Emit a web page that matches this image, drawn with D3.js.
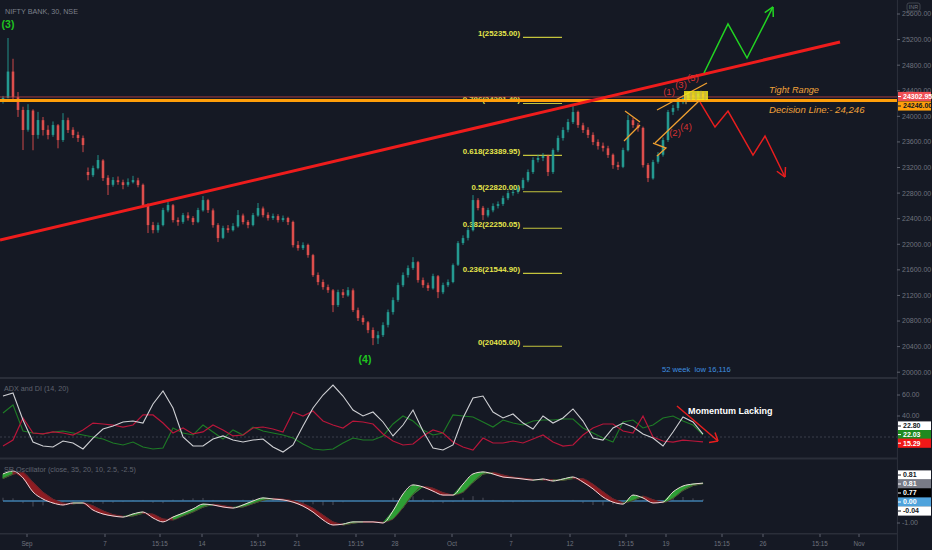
<!DOCTYPE html>
<html><head><meta charset="utf-8">
<script src="https://cdn.jsdelivr.net/npm/d3@7"></script>
<style>
html,body{margin:0;padding:0;background:#151924;overflow:hidden;}
svg{display:block;}
</style></head><body>
<svg id="c" width="932" height="550"></svg>
<script>
// ---------- DATA ----------
const opens=[24230,24290,24700,24300,24100,23790,24090,23710,23940,23790,23710,23860,23630,23940,23790,23710,23660,23130,23080,23190,23310,23040,22930,23000,22970,22930,22970,23000,22930,22610,22300,22220,22300,22530,22610,22380,22350,22450,22410,22350,22530,22690,22530,22300,22100,22250,22220,22280,22450,22350,22300,22450,22560,22460,22410,22440,22380,22410,22350,21990,21940,21990,21830,21520,21410,21330,21280,21050,21250,21200,21280,20970,20850,20780,20660,20530,20580,20740,20940,21130,21360,21520,21630,21720,21440,21360,21310,21500,21250,21360,21410,21680,22020,22100,22220,22690,22570,22450,22530,22600,22630,22720,22800,22820,22880,23000,23130,23320,23350,23380,23130,23470,23660,23790,23910,24070,23860,23790,23710,23600,23540,23500,23400,23240,23210,23470,23940,23860,23820,23240,23030,23290,23400,23630,24070,24130,24220,24290,24330,24300,24350];
const highs=[24320,25225,24900,24380,24150,24190,24110,24070,23990,23860,23920,23880,24050,23980,23830,23760,23700,23200,23230,23395,23330,23080,23050,23060,23010,23030,23070,23040,22950,22640,22350,22340,22570,22660,22630,22420,22490,22500,22440,22570,22754,22710,22560,22330,22290,22300,22330,22535,22480,22380,22490,22645,22590,22500,22480,22470,22450,22430,22370,22050,22030,22010,21850,21560,21450,21370,21300,21290,21300,21330,21310,21010,20890,20800,20700,20640,20780,20980,21170,21400,21560,21670,21799,21740,21480,21400,21540,21520,21400,21450,21700,22050,22140,22260,22769,22720,22600,22570,22640,22670,22760,22840,22870,22920,23040,23170,23360,23400,23426,23400,23500,23700,23830,23960,24161,24090,23900,23830,23750,23640,23590,23540,23420,23290,23510,24020,23980,23900,23840,23270,23320,23440,23670,24100,24180,24270,24330,24380,24370,24400,24390];
const lows=[24200,24280,24250,23990,23473,23760,23470,23650,23700,23640,23680,23500,23600,23740,23660,23600,23440,23000,23050,23170,22990,22770,22900,22930,22860,22900,22950,22890,22580,22175,22170,22180,22280,22500,22340,22290,22320,22370,22300,22330,22510,22490,22260,22034,22080,22180,22200,22260,22310,22250,22280,22430,22420,22370,22380,22340,22350,22300,21950,21900,21910,21790,21490,21360,21290,21240,20939,21020,21160,21180,20940,20800,20740,20610,20423,20440,20550,20700,20900,21100,21330,21480,21600,21400,21320,21270,21290,21158,21220,21330,21390,21660,21990,22060,22200,22530,22378,22420,22500,22560,22600,22690,22760,22790,22850,22970,23100,23280,23300,23066,23100,23440,23620,23750,23880,23820,23740,23660,23550,23480,23450,23350,23180,23160,23190,23450,23820,23760,23200,22972,23010,23260,23370,23600,24020,24090,24190,24250,24240,24270,24260];
const closes=[24290,24700,24300,24100,23786,24099,23708,23942,23786,23708,23864,23629,23942,23786,23708,23661,23551,23082,23191,23317,23035,22926,23004,22972,22926,22972,23004,22926,22613,22300,22222,22300,22535,22613,22378,22347,22456,22409,22347,22535,22691,22535,22300,22097,22253,22222,22284,22456,22347,22300,22456,22566,22456,22409,22441,22378,22409,22347,21987,21940,21987,21831,21518,21409,21330,21283,21049,21252,21205,21283,20971,20845,20783,20658,20533,20580,20736,20939,21127,21362,21518,21627,21721,21440,21362,21315,21502,21252,21362,21409,21674,22018,22097,22222,22691,22566,22456,22535,22597,22628,22722,22800,22816,22879,23004,23129,23317,23348,23379,23129,23473,23661,23786,23911,24067,23864,23786,23708,23598,23535,23504,23395,23238,23207,23473,23942,23864,23817,23238,23035,23285,23395,23629,24067,24130,24224,24286,24333,24302,24349,24302.95];

const priceTicks=[25600,25200,24800,24400,24000,23600,23200,22800,22400,22000,21600,21200,20800,20400,20000];
const tickBars=[4.8,20.4,31.4,39.8,51,58.8,70.6,78.4,89.8,101.6,113.4,124.6,132.6,143.8,152,163.4,171.2];
const tickLabels=['Sep','7','15:15','14','15:15','21','15:15','28','Oct','7','12','15:15','19','15:15','26','15:15','Nov'];

const fibRatios=['1','0.786','0.618','0.5','0.382','0.236','0'];
const fibPrices=[25235,24201.40,23389.95,22820,22250.05,21544.90,20405];

const decisionLevel=24246;
const lastPrice=24302.95;

const trendPts=[[-0.6,22065],[167.4,25162]];
const greenPath=[[140.2,24677],[145,25444],[148.8,24912],[154,25710]];
const redPath=[[139.4,24224],[142.4,23833],[145,24083],[150,23395],[152.4,23692],[156.4,23051]];
const wedgeLines=[
  [[124.4,24083],[127.4,23911]],
  [[124.2,23614],[127.4,23864]],
  [[130,23582],[132.6,23504],[130.8,23379]],
  [[130.8,24099],[140.8,24521]],
  [[130.4,23582],[139.4,24255]]
];
const tightBox=[[136.2,24396],[141,24255]];
const waveLabels=[['(1)',133.2,24380],['(3)',135.6,24490],['(5)',138,24599],['(2)',134.4,23739],['(4)',136.6,23833]];

// ADX & DI sampled every 2 bars
const adx=[59.0,61.9,36.2,15.2,11.4,10.5,16.2,14.3,8.6,19.0,27.6,30.5,34.3,35.2,33.3,51.4,63.8,47.6,20.0,11.4,11.4,18.1,21.0,17.1,15.2,17.1,18.1,10.5,5.7,12.4,30.5,47.6,60.0,69.5,59.0,45.7,40.0,43.8,34.3,21.0,31.4,45.7,25.7,9.5,7.6,12.4,38.1,57.1,59.0,43.8,38.1,41.9,33.3,27.6,40.0,33.3,38.1,46.7,35.2,19.0,17.1,28.6,33.3,29.5,22.9,19.0,11.4,24.8,39.0,34.3,22.8];
const plusDI=[42.9,50.5,25.7,23.8,22.9,24.8,25.7,23.8,21.9,20.0,18.1,14.3,12.4,15.2,10.5,8.6,9.5,28.6,23.8,21.9,31.4,24.8,18.1,26.7,21.9,29.5,25.7,23.8,21.9,19.0,13.3,8.6,7.6,8.6,14.3,19.0,17.1,17.1,21.0,32.4,40.0,35.2,26.7,21.9,23.8,41.0,40.0,39.0,34.3,29.5,36.2,33.3,31.4,35.2,36.2,36.2,37.1,37.1,28.6,23.8,19.0,15.2,34.3,36.2,28.6,31.4,38.1,40.0,35.2,31.4,22.0];
const minusDI=[11.4,17.1,38.1,23.8,22.9,24.8,23.8,21.9,26.7,33.3,32.4,31.4,29.5,31.4,41.0,41.0,33.3,23.8,28.6,22.9,24.8,31.4,26.7,21.0,21.9,28.6,29.5,27.6,24.8,43.8,40.0,44.8,35.2,31.4,28.6,35.2,34.3,32.4,22.9,16.2,12.4,13.3,21.0,26.7,23.8,15.2,10.5,7.6,19.0,14.3,14.3,16.2,14.3,18.1,21.9,15.2,11.4,12.4,21.9,28.6,32.4,32.4,25.7,23.8,40.0,20.0,16.2,15.2,17.1,16.2,15.3];
const adxTicks=[60,40];

// Oscillator sampled every 2 bars
const osc=[1.23,1.36,1.05,0.41,0.09,-0.09,-0.18,-0.09,-0.09,-0.41,-0.59,-0.68,-0.73,-0.59,-0.50,-0.77,-0.95,-0.73,-0.55,-0.36,-0.14,-0.18,-0.27,-0.32,-0.18,0.00,0.14,0.09,0.05,-0.05,-0.23,-0.50,-0.86,-1.09,-1.05,-0.95,-0.95,-0.95,-1.00,-0.45,0.32,0.73,0.64,0.45,0.27,0.27,0.77,1.23,1.32,1.23,1.09,1.05,1.00,0.95,1.00,0.91,1.00,1.09,0.86,0.55,0.18,-0.05,-0.14,0.27,0.14,-0.09,-0.05,0.41,0.68,0.77,0.81];
const oscSignal=[1.02,1.22,1.30,0.85,0.40,0.08,-0.10,-0.13,-0.08,-0.22,-0.45,-0.62,-0.70,-0.68,-0.56,-0.60,-0.82,-0.86,-0.68,-0.50,-0.28,-0.15,-0.21,-0.29,-0.27,-0.12,0.03,0.12,0.08,0.01,-0.12,-0.33,-0.64,-0.95,-1.09,-1.01,-0.95,-0.95,-0.97,-0.82,-0.30,0.30,0.66,0.58,0.38,0.26,0.40,0.85,1.22,1.30,1.18,1.08,1.03,0.98,0.96,0.97,0.94,1.02,1.01,0.76,0.42,0.10,-0.09,0.02,0.22,0.06,-0.08,0.12,0.48,0.70,0.79];
const oscHist=[0.15,0.12,-0.10,-0.25,-0.20,-0.12,-0.06,0.03,0.02,-0.10,-0.12,-0.08,-0.05,0.04,0.05,-0.08,-0.10,0.06,0.10,0.12,0.14,0.05,-0.03,-0.04,0.06,0.10,0.12,0.06,0.02,-0.04,-0.10,-0.15,-0.20,-0.18,-0.06,0.02,0.03,0.02,-0.02,0.15,0.25,0.22,0.10,-0.06,-0.10,-0.05,0.15,0.22,0.15,0.05,-0.05,-0.06,-0.04,-0.04,0.02,-0.03,0.03,0.05,-0.10,-0.18,-0.20,-0.16,-0.08,0.12,0.04,-0.08,-0.04,0.14,0.18,0.12,0.08];
const oscBoxes=[['0.81','#ffffff','#131722'],['0.81','#787b86','#ffffff'],['0.77','#000000','#ffffff'],['0.00','#4fa3dc','#ffffff'],['-0.04','#ffffff','#131722']];
const adxBoxes=[['22.80','#ffffff','#131722'],['22.03','#1f8a1f','#ffffff'],['15.29','#f01818','#ffffff']];

// ---------- SETUP ----------
const W=932,H=550,AX=897;
const svg=d3.select('#c');
const BG='#151924';
svg.append('rect').attr('width',W).attr('height',H).attr('fill',BG);

const x=d3.scaleLinear().domain([0,180]).range([3,903]);
const y=d3.scaleLinear().domain([20000,25600]).range([372.2,14]);
const ya=d3.scaleLinear().domain([0,60]).range([458,395]);
const yo=d3.scaleLinear().domain([-1,1]).range([523,479]);
const indBar=k=>2*k;

const defs=svg.append('defs');
defs.append('clipPath').attr('id','cm').append('rect').attr('x',0).attr('y',0).attr('width',AX).attr('height',377);
defs.append('clipPath').attr('id','ca').append('rect').attr('x',0).attr('y',380).attr('width',AX).attr('height',77);
defs.append('clipPath').attr('id','co').append('rect').attr('x',0).attr('y',460).attr('width',AX).attr('height',73);

const FN="'Liberation Sans', Arial, sans-serif";
const FNN="'Liberation Sans Narrow','Liberation Sans', Arial, sans-serif";

// separators
svg.append('rect').attr('x',0).attr('y',377).attr('width',W).attr('height',2).attr('fill','#2a2e39');
svg.append('rect').attr('x',0).attr('y',457.5).attr('width',W).attr('height',2).attr('fill','#2a2e39');
svg.append('rect').attr('x',0).attr('y',533).attr('width',W).attr('height',1.5).attr('fill','#2a2e39');
svg.append('line').attr('x1',AX+0.5).attr('x2',AX+0.5).attr('y1',0).attr('y2',H).attr('stroke','#2a2e39').attr('stroke-width',1.2);

// ---------- MAIN PANE ----------
const main=svg.append('g').attr('clip-path','url(#cm)');
const line=d3.line().x(d=>x(d[0])).y(d=>y(d[1]));

// fib levels
const fibG=main.append('g');
fibPrices.forEach((p,i)=>{
  fibG.append('line').attr('x1',x(104)).attr('x2',x(111.8)).attr('y1',y(p)).attr('y2',y(p))
    .attr('stroke','#c4c43c').attr('stroke-width',1.1);
  fibG.append('text').attr('x',x(103.4)).attr('y',y(p)-1.5).attr('text-anchor','end')
    .attr('font-family',FNN).attr('font-size',7.8).attr('font-weight','bold').attr('fill','#e6e64c')
    .text(`${fibRatios[i]}(${p.toFixed(2)})`);
});

// candles
const cg=main.append('g');
closes.forEach((c,i)=>{
  const o=opens[i],up=c>=o,col=up?'#26a69a':'#ef5350';
  cg.append('line').attr('x1',x(i)).attr('x2',x(i)).attr('y1',y(highs[i])).attr('y2',y(lows[i]))
    .attr('stroke',col).attr('stroke-width',1).attr('opacity',0.85);
  const yt=y(Math.max(o,c)),yb=y(Math.min(o,c));
  cg.append('rect').attr('x',x(i)-1.3).attr('width',2.6).attr('y',yt).attr('height',Math.max(1,yb-yt))
    .attr('fill',col).attr('opacity',0.85);
});

// last price line & decision line
main.append('line').attr('x1',0).attr('x2',AX).attr('y1',y(lastPrice)).attr('y2',y(lastPrice))
  .attr('stroke','#c2454a').attr('stroke-width',1).attr('opacity',0.8);
main.append('line').attr('x1',0).attr('x2',AX).attr('y1',y(decisionLevel)).attr('y2',y(decisionLevel))
  .attr('stroke','#ff9f0a').attr('stroke-width',3);

// trend line
main.append('path').attr('d',line(trendPts)).attr('stroke','#ee1c1c').attr('stroke-width',3).attr('fill','none');

// wedge lines
wedgeLines.forEach(w=>main.append('path').attr('d',line(w)).attr('stroke','#f0a030').attr('stroke-width',1.3).attr('fill','none'));

// tight box
main.append('rect').attr('x',x(tightBox[0][0])).attr('y',y(tightBox[0][1]))
  .attr('width',x(tightBox[1][0])-x(tightBox[0][0])).attr('height',y(tightBox[1][1])-y(tightBox[0][1]))
  .attr('fill','#f5e61a').attr('opacity',0.85);
[136.6,137.6,138.6,139.6,140.4].forEach((b,j)=>{
  main.append('line').attr('x1',x(b)).attr('x2',x(b)).attr('y1',y(highs[136+j])).attr('y2',y(lows[136+j]))
   .attr('stroke','#c7a85a').attr('stroke-width',1);
});

// projections
function arrow(g,pts,col){
  g.append('path').attr('d',line(pts)).attr('stroke',col).attr('stroke-width',1.5).attr('fill','none');
  const a=pts[pts.length-2],b=pts[pts.length-1];
  const ax=x(a[0]),ay=y(a[1]),bx=x(b[0]),by=y(b[1]);
  const ang=Math.atan2(by-ay,bx-ax),L=10;
  [0.5,-0.5].forEach(s=>{
    g.append('line').attr('x1',bx).attr('y1',by)
     .attr('x2',bx-L*Math.cos(ang+s)).attr('y2',by-L*Math.sin(ang+s))
     .attr('stroke',col).attr('stroke-width',1.5);
  });
}
arrow(main,greenPath,'#22d422');
arrow(main,redPath,'#e81e1e');

// labels
main.append('text').attr('x',x(1)).attr('y',28).attr('text-anchor','middle').attr('font-family',FN)
  .attr('font-size',10.5).attr('font-weight','bold').attr('fill','#1fc41f').text('(3)');
main.append('text').attr('x',x(72.4)).attr('y',363).attr('text-anchor','middle').attr('font-family',FN)
  .attr('font-size',10.5).attr('font-weight','bold').attr('fill','#1fc41f').text('(4)');
waveLabels.forEach(w=>main.append('text').attr('x',x(w[1])).attr('y',y(w[2])).attr('dy','0.35em')
  .attr('text-anchor','middle').attr('font-family',FN).attr('font-size',9.5).attr('fill','#d63232').text(w[0]));
main.append('text').attr('x',769).attr('y',y(24364)).attr('font-family',FN).attr('font-style','italic')
  .attr('font-size',9.2).attr('fill','#f0a13a').text('Tight Range');
main.append('text').attr('x',769).attr('y',y(24052)).attr('font-family',FN).attr('font-style','italic')
  .attr('font-size',9.6).attr('fill','#f0a13a').text('Decision Line:- 24,246');
main.append('text').attr('x',662).attr('y',372).attr('font-family',FN).attr('font-size',7.6)
  .attr('fill','#3e8fe0').attr('xml:space','preserve').text('52 week  low 16,116');
svg.append('text').attr('x',5).attr('y',14).attr('font-family',FN).attr('font-size',7.2)
  .attr('fill','#7c808b').text('NIFTY BANK, 30, NSE');

// ---------- ADX PANE ----------
const ag=svg.append('g').attr('clip-path','url(#ca)');
ag.append('line').attr('x1',0).attr('x2',AX).attr('y1',ya(20)).attr('y2',ya(20))
  .attr('stroke','#3a3e4a').attr('stroke-dasharray','2,2').attr('stroke-width',1);
const la=d3.line().x((d,k)=>x(indBar(k))).y(d=>ya(d));
ag.append('path').attr('d',la(plusDI)).attr('stroke','#1e7b26').attr('stroke-width',1.1).attr('fill','none');
ag.append('path').attr('d',la(minusDI)).attr('stroke','#b8163a').attr('stroke-width',1.2).attr('fill','none');
ag.append('path').attr('d',la(adx)).attr('stroke','#cfd0d4').attr('stroke-width',1.1).attr('fill','none');
svg.append('text').attr('x',4).attr('y',391).attr('font-family',FN).attr('font-size',7.2)
  .attr('fill','#5f636e').text('ADX and DI (14, 20)');
// annotation
svg.append('line').attr('x1',677).attr('y1',406).attr('x2',718).attr('y2',441).attr('stroke','#e81e1e').attr('stroke-width',1.5);
svg.append('line').attr('x1',718).attr('y1',441).attr('x2',709).attr('y2',442.5).attr('stroke','#e81e1e').attr('stroke-width',1.5);
svg.append('line').attr('x1',718).attr('y1',441).attr('x2',715).attr('y2',432.5).attr('stroke','#e81e1e').attr('stroke-width',1.5);
svg.append('text').attr('x',688).attr('y',414).attr('font-family',FN).attr('font-size',9).attr('font-weight','bold')
  .attr('fill','#ffffff').text('Momentum Lacking');

// ---------- OSCILLATOR PANE ----------
const og=svg.append('g').attr('clip-path','url(#co)');
oscHist.forEach((h,k)=>{
  og.append('rect').attr('x',x(indBar(k))-0.6).attr('width',1.2)
    .attr('y',Math.min(yo(h),yo(0))).attr('height',Math.abs(yo(h)-yo(0)))
    .attr('fill','#50535e').attr('opacity',0.8);
});
og.append('line').attr('x1',x(0)).attr('x2',x(indBar(osc.length-1))).attr('y1',yo(0)).attr('y2',yo(0))
  .attr('stroke','#3f7fae').attr('stroke-width',1.3);
for(let k=0;k<osc.length-1;k++){
  const pts=[[x(indBar(k)),yo(osc[k])],[x(indBar(k+1)),yo(osc[k+1])],[x(indBar(k+1)),yo(oscSignal[k+1])],[x(indBar(k)),yo(oscSignal[k])]];
  const up=(osc[k]+osc[k+1])>(oscSignal[k]+oscSignal[k+1]);
  og.append('path').attr('d','M'+pts.join('L')+'Z').attr('fill',up?'#2e9e35':'#8e1c22').attr('stroke',up?'#2e9e35':'#8e1c22').attr('stroke-width',1);
}
const lo=d3.line().x((d,k)=>x(indBar(k))).y(d=>yo(d)).curve(d3.curveMonotoneX);
og.append('path').attr('d',lo(oscSignal)).attr('stroke','#5a2a30').attr('stroke-width',0.8).attr('fill','none');
og.append('path').attr('d',lo(osc)).attr('stroke','#ead6da').attr('stroke-width',1).attr('fill','none');
svg.append('text').attr('x',4).attr('y',472).attr('font-family',FN).attr('font-size',7.2)
  .attr('fill','#5f636e').text('SR Oscillator (close, 35, 20, 10, 2.5, -2.5)');

// ---------- RIGHT AXIS ----------
svg.append('rect').attr('x',AX+1).attr('y',0).attr('width',W-AX-1).attr('height',H).attr('fill',BG);
const axG=svg.append('g');
function tickLabel(yv,txt){
  axG.append('line').attr('x1',AX).attr('x2',AX+3).attr('y1',yv).attr('y2',yv).attr('stroke','#5d616c');
  axG.append('text').attr('x',AX+5).attr('y',yv).attr('dy','0.35em').attr('font-family',FNN)
    .attr('font-size',7).attr('fill','#6e727d').text(txt);
}
priceTicks.forEach(p=>tickLabel(y(p),p.toFixed(2)));
adxTicks.forEach(v=>tickLabel(ya(v),v.toFixed(2)));
tickLabel(yo(-1),'-1.00');
function box(yc,txt,bg,fg){
  axG.append('rect').attr('x',AX+1).attr('y',yc-4.6).attr('width',33).attr('height',9.2).attr('fill',bg);
  axG.append('line').attr('x1',AX+1).attr('x2',AX+4).attr('y1',yc).attr('y2',yc).attr('stroke',fg);
  axG.append('text').attr('x',AX+6).attr('y',yc).attr('dy','0.35em').attr('font-family',FNN)
    .attr('font-size',7).attr('font-weight','bold').attr('fill',fg).text(txt);
}
box(96.5,lastPrice.toFixed(2),'#ef4f55','#ffffff');
box(106,decisionLevel.toFixed(2),'#ff9f0a','#131722');
adxBoxes.forEach((b,i)=>box(426+i*8.6,b[0],b[1],b[2]));
oscBoxes.forEach((b,i)=>box(475+i*9,b[0],b[1],b[2]));
// INR badge
axG.append('rect').attr('x',907).attr('y',3).attr('width',13).attr('height',8).attr('rx',2)
  .attr('fill','none').attr('stroke','#4a4e59').attr('stroke-width',0.8);
axG.append('text').attr('x',913.5).attr('y',7).attr('dy','0.35em').attr('text-anchor','middle')
  .attr('font-family',FNN).attr('font-size',5.5).attr('fill','#6e727d').text('INR');

// ---------- TIME AXIS ----------
tickBars.forEach((b,i)=>{
  svg.append('line').attr('x1',x(b)).attr('x2',x(b)).attr('y1',534).attr('y2',537).attr('stroke','#5d616c');
  svg.append('text').attr('x',x(b)).attr('y',543.5).attr('dy','0.35em').attr('text-anchor','middle')
    .attr('font-family',FNN).attr('font-size',6.3).attr('fill','#6e727d').text(tickLabels[i]);
});
</script>
</body></html>
